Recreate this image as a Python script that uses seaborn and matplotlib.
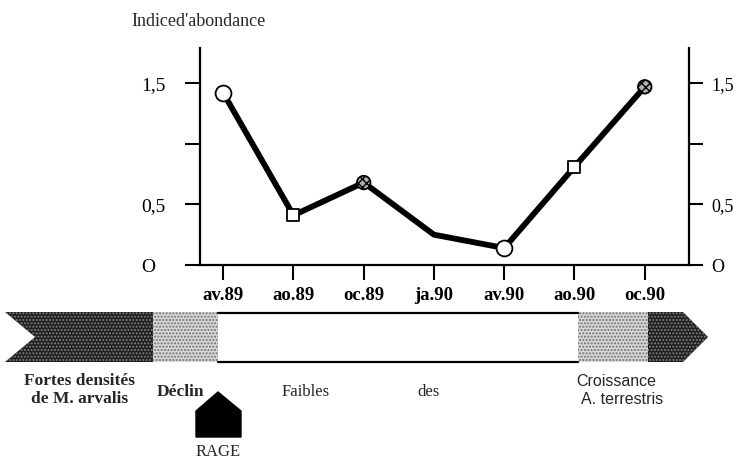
import numpy as np
import pandas as pd
import matplotlib
matplotlib.use('Agg')
import matplotlib.pyplot as plt
from matplotlib.patches import Polygon, Rectangle
import seaborn as sns

# Indice d'abondance par relevé
months = ['av.89', 'ao.89', 'oc.89', 'ja.90', 'av.90', 'ao.90', 'oc.90']
abundance = [1.42, 0.41, 0.68, 0.25, 0.14, 0.81, 1.47]
marker_kind = ['open_circle', 'open_square', 'shaded_circle', 'none',
               'open_circle', 'open_square', 'shaded_circle']
ytick_values = [0, 0.5, 1.0, 1.5]
ytick_labels = ['O', '0,5', '', '1,5']

sns.set_theme(style='white')
plt.rcParams['font.family'] = ['Liberation Serif', 'DejaVu Serif']

df = pd.DataFrame({'pos': np.arange(len(months)), 'value': abundance,
                   'kind': marker_kind})

W, H = 739, 463
fig = plt.figure(figsize=(W / 100, H / 100), dpi=100)
fig.patch.set_facecolor('white')

# band / annotation layer in pixel coordinates (behind the chart)
band = fig.add_axes([0, 0, 1, 1], zorder=0)
band.set_xlim(0, W)
band.set_ylim(H, 0)
band.axis('off')

ax = fig.add_axes([200 / W, 1 - 265 / H, 489 / W, 217 / H], zorder=1)
ax.set_facecolor('none')

sns.lineplot(data=df, x='pos', y='value', color='black', linewidth=4.2,
             ax=ax, zorder=2)

styles = {
    'open_circle': dict(marker='o', s=130, facecolor='white', edgecolor='black'),
    'open_square': dict(marker='s', s=85, facecolor='white', edgecolor='black'),
    'shaded_circle': dict(marker='o', s=95, facecolor='#b0b0b0', edgecolor='black',
                          hatch='xxxx'),
}
for kind, st in styles.items():
    sub = df[df['kind'] == kind]
    ax.scatter(sub['pos'], sub['value'], linewidths=1.3, zorder=3, **st)

ax.set_xlim(-0.33, 6.63)
ax.set_ylim(0, 1.79)
ax.set_xticks(df['pos'])
ax.set_xticklabels(months, fontsize=13.5, fontweight='bold')
ax.set_yticks(ytick_values)
ax.set_yticklabels([lab + ('  ' if lab == 'O' else '') for lab in ytick_labels],
                   fontsize=14)
ax.set_xlabel('')
ax.set_ylabel('')

for side in ['left', 'bottom', 'right']:
    ax.spines[side].set_visible(True)
    ax.spines[side].set_color('black')
    ax.spines[side].set_linewidth(1.6)
ax.spines['top'].set_visible(False)

ax.tick_params(axis='y', which='major', direction='out', length=11, width=1.5,
               pad=14, left=True, right=False, labelleft=True, labelright=False,
               colors='black')
ax.tick_params(axis='x', which='major', direction='out', length=11, width=1.5,
               pad=5, bottom=True, colors='black')

# right-hand scale
ax_r = ax.twinx()
ax_r.set_ylim(ax.get_ylim())
ax_r.set_yticks(ytick_values)
ax_r.set_yticklabels(ytick_labels, fontsize=13)
ax_r.grid(False)
for side in ['left', 'bottom', 'top', 'right']:
    ax_r.spines[side].set_visible(False)
ax_r.tick_params(axis='y', direction='out', length=10, width=1.5, pad=6,
                 right=True, labelright=True, colors='black')

# title
band.text(199, 22, "Indiced'abondance", ha='center', va='center', fontsize=13)

# population band
dark = '#1e1e1e'
light = '#d8d8d8'
left_tail = [(5, 312), (153, 312), (153, 362), (5, 362), (35, 337)]
right_head = [(648, 312), (683, 312), (708, 337), (683, 362), (648, 362)]
for pts in (left_tail, right_head):
    band.add_patch(Polygon(pts, closed=True, facecolor=dark, edgecolor='none'))
    band.add_patch(Polygon(pts, closed=True, facecolor='none', edgecolor='#808080',
                           hatch='.....', linewidth=0))
for x0, x1 in ((153, 218), (578, 648)):
    band.add_patch(Rectangle((x0, 312), x1 - x0, 50, facecolor=light,
                             edgecolor='none'))
    band.add_patch(Rectangle((x0, 312), x1 - x0, 50, facecolor='none',
                             edgecolor='#707070', hatch='.....', linewidth=0))
band.plot([218, 578], [313, 313], color='black', lw=1.6)
band.plot([218, 578], [362, 362], color='black', lw=1.6)

# RAGE marker
band.add_patch(Polygon([(196, 437), (196, 411), (218, 392), (241, 411), (241, 437)],
                       closed=True, facecolor='black', edgecolor='black'))
band.text(218, 452, 'RAGE', ha='center', va='center', fontsize=12)

band.text(80, 381, 'Fortes densités', ha='center', va='center', fontsize=12.5,
          fontweight='bold')
band.text(80, 399, 'de M. arvalis', ha='center', va='center', fontsize=12.5,
          fontweight='bold')
band.text(180, 392, 'Déclin', ha='center', va='center', fontsize=12.5,
          fontweight='bold')
band.text(306, 392, 'Faibles', ha='center', va='center', fontsize=12)
band.text(428, 392, 'des', ha='center', va='center', fontsize=12)
band.text(616, 381, 'Croissance', ha='center', va='center', fontsize=11.5,
          family='Liberation Sans')
band.text(622, 399, 'A. terrestris', ha='center', va='center', fontsize=11.5,
          family='Liberation Sans')

fig.savefig('out.png', dpi=100)
